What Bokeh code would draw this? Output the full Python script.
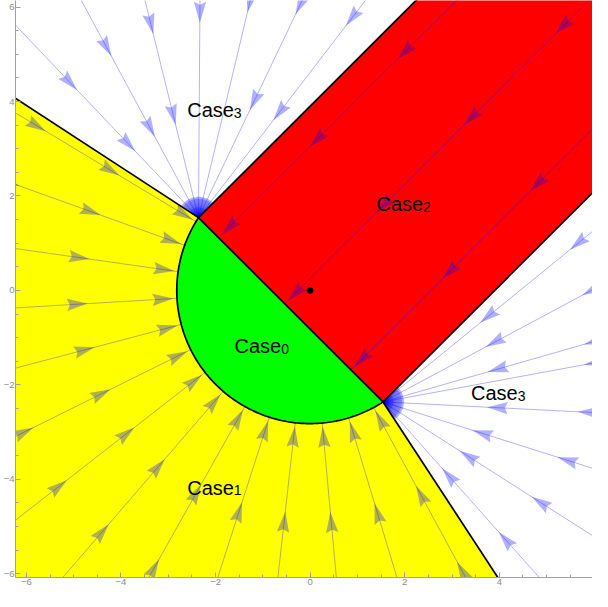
import numpy as np
from bokeh.plotting import figure
from bokeh.models import Range1d, SingleIntervalTicker
from bokeh.core.properties import value
from bokeh.embed import file_html
from bokeh.resources import INLINE

# ---------------- data ----------------
circle_r = 2.82          # radius of the Case0 disc (centred at the origin)
chord_c = -0.82          # chord separating Case0 / Case2:  x + y = chord_c

label_text = ["Case", "Case", "Case", "Case", "Case"]
label_sub = ["0", "1", "2", "3", "3"]
label_x = [-1, -2, 2, -2, 4]
label_y = [-1, -4, 2, 4, -2]

# Case1 (yellow) radial streamlines: angle (deg) and arrow radii
case1_angles = [148.9, 160.2, 171.9, 183.4, 194.8, 206.4, 218.0, 229.3,
                240.7, 252.2, 263.6, 275.2, 286.8, 298.4]
case1_arrow_r = [3.12, 4.93, 6.75]

# Case2 (red) streamlines: offsets x - y, arrow distances from the chord
case2_offsets = [-3.05, -0.25, 2.55]
case2_arrow_d = [0.32, 2.95, 5.58, 8.31]

# Case3 upper (towards corner A): angles, far / near arrow distances
case3a_angles = [133.5, 118.3, 103.8, 89.6, 76.6, 64.5, 52.5]
case3a_far = [3.95, 4.10, 4.22, 4.35, 4.69, 4.99, 5.34]
case3a_near = [2.16, 2.16, 2.24, None, None, 2.74, 2.82]

# Case3 right (towards corner B)
case3b_angles = [39.2, 28.2, 16.0, 10.5, -2.9, -17.6, -32.6, -48.4]
case3b_far = [5.32, 5.00, 4.64, 4.54, 4.34, 4.09, 3.95, 3.90]
case3b_near = [2.87, 2.68, 2.52, None, 2.42, 2.20, 2.14, 2.10]

tick_values = [-6, -4, -2, 0, 2, 4, 6]

# ---------------- geometry ----------------
fx = fy = chord_c / 2.0
dist = abs(chord_c) / np.sqrt(2)
half = np.sqrt(circle_r**2 - dist**2) / np.sqrt(2)
A = np.array([fx - half, fy + half])
B = np.array([fx + half, fy - half])
aA = np.degrees(np.arctan2(A[1], A[0]))
aB = np.degrees(np.arctan2(B[1], B[0])) + 360.0
FAR = 16.0

BLUE = "#0000ff"
ALPHA = 0.31

p = figure(width=592, height=591,
           x_range=Range1d(-6.23, 5.97), y_range=Range1d(-6.08, 6.14),
           toolbar_location=None, output_backend="svg",
           min_border_left=14, min_border_right=0, min_border_top=0,
           min_border_bottom=14, background_fill_color="white",
           border_fill_color="white")
p.grid.visible = False
p.outline_line_color = None

arc_t = np.radians(np.linspace(aA, aB, 200))
# Case1 yellow region
yx = np.concatenate([FAR * np.cos(arc_t), circle_r * np.cos(arc_t[::-1])])
yy = np.concatenate([FAR * np.sin(arc_t), circle_r * np.sin(arc_t[::-1])])
p.patch(yx, yy, fill_color="#ffff00", line_color=None)
# Case0 green segment
p.patch(circle_r * np.cos(arc_t), circle_r * np.sin(arc_t),
        fill_color="#00ff00", line_color=None)
# Case2 red strip
p.patch([A[0], B[0], B[0] + FAR, A[0] + FAR], [A[1], B[1], B[1] + FAR, A[1] + FAR],
        fill_color="#ff0000", line_color=None)

line_xs, line_ys = [], []
arrows = []  # (x, y, dx, dy)

for th in case1_angles:
    t = np.radians(th)
    c, s = np.cos(t), np.sin(t)
    line_xs.append([12 * c, circle_r * c])
    line_ys.append([12 * s, circle_r * s])
    for rr in case1_arrow_r:
        arrows.append((rr * c, rr * s, -c, -s))

u = 1 / np.sqrt(2)
for k in case2_offsets:
    x0, y0 = (chord_c + k) / 2.0, (chord_c - k) / 2.0
    line_xs.append([x0, x0 + 14 * u])
    line_ys.append([y0, y0 + 14 * u])
    for d in case2_arrow_d:
        arrows.append((x0 + d * u, y0 + d * u, -u, -u))

for corner, angs, far, near in [(A, case3a_angles, case3a_far, case3a_near),
                                (B, case3b_angles, case3b_far, case3b_near)]:
    for th, df, dn in zip(angs, far, near):
        t = np.radians(th)
        c, s = np.cos(t), np.sin(t)
        line_xs.append([corner[0], corner[0] + 12 * c])
        line_ys.append([corner[1], corner[1] + 12 * s])
        for d in (df, dn):
            if d is not None:
                arrows.append((corner[0] + d * c, corner[1] + d * s, -c, -s))

p.multi_line(line_xs, line_ys, line_color=BLUE, line_alpha=0.3, line_width=1)

L, W, N = 0.44, 0.13, 0.06
ax_list, ay_list = [], []
for (x, y, dx, dy) in arrows:
    nx, ny = -dy, dx
    tip = (x + dx * L / 2, y + dy * L / 2)
    bx, by = x - dx * L / 2, y - dy * L / 2
    ax_list.append([tip[0], bx + nx * W, bx + dx * N, bx - nx * W])
    ay_list.append([tip[1], by + ny * W, by + dy * N, by - ny * W])
p.patches(ax_list, ay_list, fill_color=BLUE, fill_alpha=ALPHA, line_color=None)

# dense fans of converging streamlines at the two corners
for corner, a0, a1 in [(A, 45.0, aA), (B, aB - 360.0, 45.0)]:
    p.wedge(x=[corner[0]], y=[corner[1]], radius=0.40, start_angle=np.radians(a0),
            end_angle=np.radians(a1), fill_color=BLUE, fill_alpha=0.22, line_color=None)
    p.wedge(x=[corner[0]], y=[corner[1]], radius=0.22, start_angle=np.radians(a0),
            end_angle=np.radians(a1), fill_color=BLUE, fill_alpha=0.2, line_color=None)
    angs = np.radians(np.linspace(a0 + 3, a1 - 3, 26))
    p.multi_line([[corner[0], corner[0] + 0.44 * np.cos(t)] for t in angs],
                 [[corner[1], corner[1] + 0.44 * np.sin(t)] for t in angs],
                 line_color=BLUE, line_alpha=0.3, line_width=1.5)

# black boundaries
bxs = [list(circle_r * np.cos(arc_t)), [A[0], B[0]],
       [A[0], A[0] + FAR], [B[0], B[0] + FAR],
       [A[0], A[0] * 8], [B[0], B[0] * 8]]
bys = [list(circle_r * np.sin(arc_t)), [A[1], B[1]],
       [A[1], A[1] + FAR], [B[1], B[1] + FAR],
       [A[1], A[1] * 8], [B[1], B[1] * 8]]
p.multi_line(bxs, bys, line_color="black", line_width=1.7)

p.scatter([0], [0], size=6, color="black")

p.text(label_x, label_y, text=label_text, text_font=value("Liberation Sans"),
       text_font_size="20px", text_color="black", text_align="left",
       text_baseline="alphabetic", x_offset=-28.3, y_offset=8.3)
p.text(label_x, label_y, text=label_sub, text_font=value("Liberation Sans"),
       text_font_size="14px", text_color="black", text_align="left",
       text_baseline="alphabetic", x_offset=18.3, y_offset=11.0)

overrides = {v: (("\u2212" + str(-v)) if v < 0 else str(v)) for v in tick_values}
for ax in (p.xaxis[0], p.yaxis[0]):
    ax.ticker = SingleIntervalTicker(interval=2, num_minor_ticks=4)
    ax.major_label_overrides = overrides
    ax.major_tick_in = 5
    ax.major_tick_out = 0
    ax.minor_tick_in = 3
    ax.minor_tick_out = 0
    ax.axis_line_color = "#a0a0a0"
    ax.major_tick_line_color = "#a0a0a0"
    ax.minor_tick_line_color = "#a0a0a0"
    ax.major_label_text_color = "#8c8c8c"
    ax.major_label_text_font = "Liberation Sans"
    ax.major_label_text_font_size = "9.5px"
    ax.major_label_standoff = 1

open("out.html", "w").write(file_html(p, INLINE))
